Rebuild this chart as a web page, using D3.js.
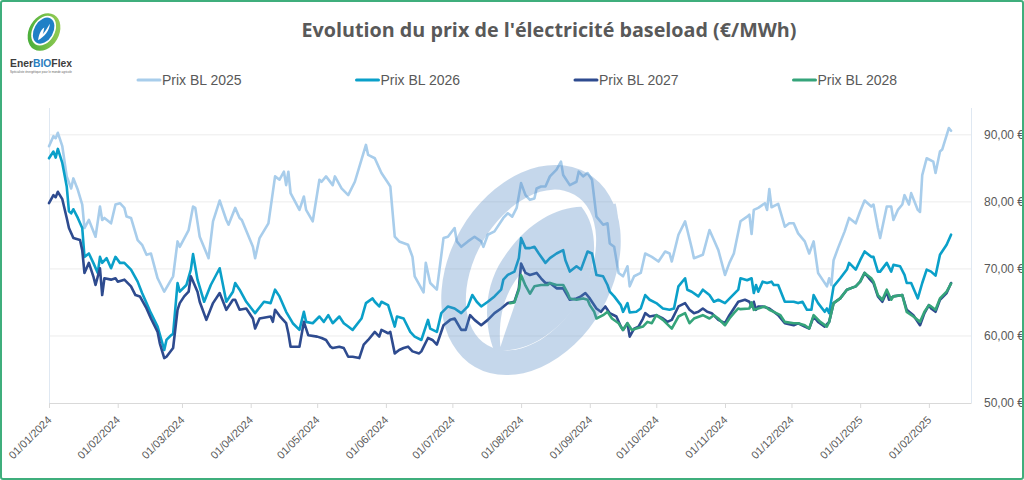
<!DOCTYPE html>
<html><head><meta charset="utf-8">
<script src="https://cdn.jsdelivr.net/npm/d3@7"></script>
<style>
html,body{margin:0;padding:0;background:#fff;}
svg{display:block;font-family:"Liberation Sans",Arial,sans-serif;}
</style></head>
<body>
<svg id="chart" width="1024" height="480"></svg>
<script>
const titleText = "Evolution du prix de l'électricité baseload (€/MWh)";
const seriesNames = ["Prix BL 2025","Prix BL 2026","Prix BL 2027","Prix BL 2028"];
const seriesColors = ["#a8cdeb","#0aa0c9","#2e4b8f","#35a47a"];
const xTickLabels = ["01/01/2024","01/02/2024","01/03/2024","01/04/2024","01/05/2024","01/06/2024","01/07/2024","01/08/2024","01/09/2024","01/10/2024","01/11/2024","01/12/2024","01/01/2025","01/02/2025"];
const yTicks = [50,60,70,80,90];

const bl2025 = [["2024-01-01",88.3],["2024-01-03",89.8],["2024-01-04",89.5],["2024-01-05",90.3],["2024-01-07",88.3],["2024-01-09",83.8],["2024-01-11",82.0],["2024-01-12",83.5],["2024-01-14",81.8],["2024-01-16",79.6],["2024-01-17",76.1],["2024-01-19",77.3],["2024-01-22",74.8],["2024-01-24",79.3],["2024-01-25",77.3],["2024-01-26",77.6],["2024-01-29",76.8],["2024-01-31",79.6],["2024-02-02",79.8],["2024-02-04",79.1],["2024-02-05",77.8],["2024-02-07",77.6],["2024-02-10",74.3],["2024-02-12",73.6],["2024-02-14",72.1],["2024-02-16",72.3],["2024-02-19",68.6],["2024-02-22",66.6],["2024-02-26",68.9],["2024-02-28",74.1],["2024-02-29",73.3],["2024-03-04",75.8],["2024-03-06",79.3],["2024-03-07",79.1],["2024-03-09",74.8],["2024-03-13",71.6],["2024-03-15",77.1],["2024-03-18",80.2],["2024-03-21",77.3],["2024-03-22",76.6],["2024-03-25",79.1],["2024-03-27",77.6],["2024-03-28",77.3],["2024-04-02",73.3],["2024-04-03",71.6],["2024-04-05",74.6],["2024-04-09",76.8],["2024-04-12",83.8],["2024-04-14",83.3],["2024-04-16",84.5],["2024-04-17",82.5],["2024-04-18",84.5],["2024-04-19",81.3],["2024-04-23",78.8],["2024-04-25",80.8],["2024-04-26",78.8],["2024-04-29",77.1],["2024-05-02",83.3],["2024-05-03",83.0],["2024-05-05",83.8],["2024-05-08",82.5],["2024-05-09",83.8],["2024-05-12",82.0],["2024-05-15",81.0],["2024-05-18",83.0],["2024-05-21",86.3],["2024-05-23",88.5],["2024-05-24",87.0],["2024-05-27",86.5],["2024-05-30",84.3],["2024-06-02",82.8],["2024-06-03",82.3],["2024-06-05",74.8],["2024-06-07",74.1],["2024-06-11",73.6],["2024-06-13",71.8],["2024-06-14",68.9],["2024-06-18",66.5],["2024-06-19",70.9],["2024-06-21",67.9],["2024-06-24",66.9],["2024-06-27",74.6],["2024-06-29",74.8],["2024-07-02",76.1],["2024-07-03",74.1],["2024-07-05",73.3],["2024-07-08",74.1],["2024-07-11",74.8],["2024-07-14",74.1],["2024-07-15",73.3],["2024-07-17",75.1],["2024-07-20",75.6],["2024-07-24",77.6],["2024-07-26",78.3],["2024-07-28",77.8],["2024-07-30",79.1],["2024-08-01",82.8],["2024-08-03",81.0],["2024-08-05",80.3],["2024-08-07",80.5],["2024-08-08",82.0],["2024-08-10",82.3],["2024-08-12",82.3],["2024-08-14",83.8],["2024-08-17",84.8],["2024-08-19",86.0],["2024-08-20",84.0],["2024-08-23",82.5],["2024-08-26",83.0],["2024-08-27",84.5],["2024-08-29",83.8],["2024-08-31",84.3],["2024-09-02",83.3],["2024-09-04",77.8],["2024-09-07",76.6],["2024-09-09",76.8],["2024-09-10",73.8],["2024-09-12",73.3],["2024-09-14",69.4],["2024-09-16",68.9],["2024-09-18",70.4],["2024-09-19",67.4],["2024-09-21",68.9],["2024-09-24",69.4],["2024-09-26",72.3],["2024-09-29",71.8],["2024-10-02",71.1],["2024-10-05",72.6],["2024-10-07",72.3],["2024-10-08",71.1],["2024-10-11",75.1],["2024-10-14",77.1],["2024-10-15",75.8],["2024-10-17",73.1],["2024-10-18",71.6],["2024-10-22",72.1],["2024-10-25",75.8],["2024-10-27",74.3],["2024-10-29",72.8],["2024-11-01",69.1],["2024-11-03",70.9],["2024-11-05",72.3],["2024-11-08",77.1],["2024-11-11",77.8],["2024-11-12",78.1],["2024-11-13",75.2],["2024-11-14",78.8],["2024-11-16",79.1],["2024-11-19",79.8],["2024-11-20",78.8],["2024-11-21",81.9],["2024-11-22",79.2],["2024-11-25",79.7],["2024-11-28",76.3],["2024-11-30",76.8],["2024-12-02",76.8],["2024-12-04",75.3],["2024-12-07",74.1],["2024-12-09",72.3],["2024-12-11",74.1],["2024-12-13",69.4],["2024-12-15",68.4],["2024-12-17",67.4],["2024-12-18",68.6],["2024-12-19",67.6],["2024-12-20",71.3],["2024-12-22",73.1],["2024-12-25",75.6],["2024-12-27",77.6],["2024-12-30",76.8],["2025-01-01",78.6],["2025-01-03",80.2],["2025-01-06",79.3],["2025-01-07",79.6],["2025-01-09",76.1],["2025-01-10",74.6],["2025-01-13",79.3],["2025-01-15",79.3],["2025-01-16",77.3],["2025-01-18",78.8],["2025-01-20",79.6],["2025-01-21",81.0],["2025-01-23",79.6],["2025-01-24",81.3],["2025-01-27",78.8],["2025-01-28",78.5],["2025-01-29",84.0],["2025-01-31",86.5],["2025-02-03",86.0],["2025-02-04",84.3],["2025-02-06",87.5],["2025-02-07",87.8],["2025-02-10",91.0],["2025-02-11",90.6]];

const bl2026 = [["2024-01-01",86.5],["2024-01-03",87.5],["2024-01-04",86.6],["2024-01-05",87.9],["2024-01-07",85.8],["2024-01-09",82.3],["2024-01-10",78.6],["2024-01-11",78.3],["2024-01-12",78.9],["2024-01-14",77.6],["2024-01-16",76.1],["2024-01-17",71.8],["2024-01-19",72.3],["2024-01-21",70.9],["2024-01-23",69.4],["2024-01-24",71.8],["2024-01-25",70.9],["2024-01-27",71.6],["2024-01-29",70.1],["2024-01-31",71.8],["2024-02-02",70.9],["2024-02-04",70.9],["2024-02-07",69.9],["2024-02-10",68.1],["2024-02-12",66.4],["2024-02-14",64.9],["2024-02-16",63.4],["2024-02-19",61.4],["2024-02-21",59.1],["2024-02-22",57.9],["2024-02-23",59.4],["2024-02-25",60.1],["2024-02-26",60.3],["2024-02-28",67.9],["2024-02-29",66.6],["2024-03-03",67.6],["2024-03-05",69.9],["2024-03-06",72.2],["2024-03-08",68.4],["2024-03-11",65.1],["2024-03-14",67.6],["2024-03-18",70.1],["2024-03-21",65.1],["2024-03-24",66.6],["2024-03-25",67.9],["2024-03-27",66.9],["2024-03-30",65.1],["2024-04-03",63.4],["2024-04-07",65.1],["2024-04-10",64.9],["2024-04-12",66.9],["2024-04-14",65.9],["2024-04-17",63.6],["2024-04-20",61.9],["2024-04-23",60.9],["2024-04-25",63.6],["2024-04-26",62.1],["2024-04-29",61.9],["2024-05-02",62.9],["2024-05-04",62.1],["2024-05-06",63.1],["2024-05-08",61.9],["2024-05-11",62.9],["2024-05-13",61.9],["2024-05-15",61.4],["2024-05-17",60.9],["2024-05-21",62.6],["2024-05-23",64.9],["2024-05-26",65.6],["2024-05-27",65.1],["2024-05-29",64.4],["2024-05-30",65.1],["2024-06-02",64.6],["2024-06-05",61.4],["2024-06-06",62.9],["2024-06-09",62.6],["2024-06-12",60.6],["2024-06-14",59.9],["2024-06-17",59.4],["2024-06-20",62.4],["2024-06-21",61.1],["2024-06-24",60.6],["2024-06-26",63.4],["2024-06-29",64.4],["2024-07-02",64.1],["2024-07-05",63.4],["2024-07-08",64.4],["2024-07-10",66.1],["2024-07-12",65.1],["2024-07-14",64.4],["2024-07-17",65.1],["2024-07-20",65.9],["2024-07-23",66.9],["2024-07-24",68.4],["2024-07-26",69.1],["2024-07-29",69.6],["2024-07-31",71.6],["2024-08-01",74.6],["2024-08-03",73.1],["2024-08-05",73.1],["2024-08-07",73.3],["2024-08-09",72.3],["2024-08-12",70.9],["2024-08-14",71.6],["2024-08-17",72.3],["2024-08-20",72.8],["2024-08-21",71.3],["2024-08-23",69.6],["2024-08-26",70.4],["2024-08-28",69.9],["2024-08-31",72.6],["2024-09-02",72.3],["2024-09-04",69.1],["2024-09-07",68.9],["2024-09-09",67.6],["2024-09-10",66.6],["2024-09-12",65.9],["2024-09-15",64.6],["2024-09-16",63.6],["2024-09-18",64.9],["2024-09-19",63.5],["2024-09-22",63.6],["2024-09-24",64.1],["2024-09-26",66.1],["2024-09-28",65.4],["2024-10-01",64.9],["2024-10-04",64.1],["2024-10-07",63.9],["2024-10-09",64.1],["2024-10-11",67.4],["2024-10-14",68.6],["2024-10-15",66.9],["2024-10-17",66.6],["2024-10-20",65.9],["2024-10-22",66.9],["2024-10-25",66.1],["2024-10-27",65.1],["2024-10-29",65.4],["2024-11-01",64.9],["2024-11-04",65.9],["2024-11-07",66.9],["2024-11-08",68.6],["2024-11-11",68.3],["2024-11-13",68.6],["2024-11-14",66.4],["2024-11-15",67.6],["2024-11-16",66.6],["2024-11-18",68.1],["2024-11-20",67.9],["2024-11-22",68.1],["2024-11-23",67.6],["2024-11-25",67.6],["2024-11-28",65.1],["2024-12-02",65.1],["2024-12-04",64.9],["2024-12-06",65.1],["2024-12-08",63.9],["2024-12-10",63.9],["2024-12-11",66.1],["2024-12-13",64.9],["2024-12-16",63.6],["2024-12-17",64.1],["2024-12-18",63.4],["2024-12-20",67.4],["2024-12-23",68.6],["2024-12-26",69.9],["2024-12-27",70.9],["2024-12-30",69.9],["2025-01-01",71.3],["2025-01-03",72.6],["2025-01-06",71.8],["2025-01-07",71.8],["2025-01-09",69.6],["2025-01-10",69.6],["2025-01-13",70.9],["2025-01-15",69.6],["2025-01-16",70.6],["2025-01-19",70.4],["2025-01-21",69.1],["2025-01-22",67.9],["2025-01-24",67.9],["2025-01-27",65.6],["2025-01-29",67.9],["2025-01-31",69.9],["2025-02-02",69.6],["2025-02-04",69.0],["2025-02-06",72.1],["2025-02-09",73.6],["2025-02-11",75.1]];

const bl2027 = [["2024-01-01",79.8],["2024-01-03",81.0],["2024-01-04",80.7],["2024-01-05",81.5],["2024-01-07",80.4],["2024-01-09",77.6],["2024-01-10",76.1],["2024-01-12",74.6],["2024-01-15",74.3],["2024-01-16",72.8],["2024-01-17",69.4],["2024-01-19",70.9],["2024-01-21",68.9],["2024-01-22",67.6],["2024-01-24",70.1],["2024-01-25",66.1],["2024-01-26",68.6],["2024-01-29",68.4],["2024-01-31",68.6],["2024-02-01",68.1],["2024-02-04",68.4],["2024-02-07",67.4],["2024-02-09",66.1],["2024-02-11",65.9],["2024-02-14",64.1],["2024-02-16",62.6],["2024-02-19",60.6],["2024-02-20",58.9],["2024-02-22",56.7],["2024-02-23",56.9],["2024-02-26",58.2],["2024-02-28",63.9],["2024-02-29",64.9],["2024-03-02",65.9],["2024-03-04",66.6],["2024-03-05",68.9],["2024-03-08",66.6],["2024-03-09",65.1],["2024-03-12",62.4],["2024-03-15",64.9],["2024-03-18",66.4],["2024-03-21",63.9],["2024-03-24",65.4],["2024-03-25",65.4],["2024-03-27",63.9],["2024-03-30",64.1],["2024-04-02",62.6],["2024-04-03",61.1],["2024-04-05",62.6],["2024-04-10",62.9],["2024-04-11",62.1],["2024-04-12",63.9],["2024-04-14",63.0],["2024-04-17",61.9],["2024-04-18",60.4],["2024-04-19",58.4],["2024-04-23",58.4],["2024-04-25",62.1],["2024-04-27",60.1],["2024-05-01",59.9],["2024-05-03",59.7],["2024-05-05",59.4],["2024-05-07",58.4],["2024-05-08",58.2],["2024-05-11",58.4],["2024-05-13",58.2],["2024-05-15",56.9],["2024-05-17",56.9],["2024-05-20",56.7],["2024-05-22",58.7],["2024-05-24",59.4],["2024-05-27",60.6],["2024-05-29",59.9],["2024-05-30",60.9],["2024-06-02",60.4],["2024-06-03",60.6],["2024-06-05",57.4],["2024-06-07",57.9],["2024-06-09",58.2],["2024-06-11",58.4],["2024-06-13",57.7],["2024-06-16",57.4],["2024-06-17",57.7],["2024-06-20",59.7],["2024-06-22",59.4],["2024-06-24",58.7],["2024-06-27",61.6],["2024-06-30",62.4],["2024-07-02",62.6],["2024-07-05",60.9],["2024-07-07",60.9],["2024-07-09",63.1],["2024-07-11",62.4],["2024-07-14",61.6],["2024-07-17",62.4],["2024-07-20",63.4],["2024-07-23",64.1],["2024-07-26",64.9],["2024-07-29",65.1],["2024-07-31",67.1],["2024-08-01",70.8],["2024-08-03",69.4],["2024-08-05",69.1],["2024-08-08",69.4],["2024-08-10",68.6],["2024-08-12",67.9],["2024-08-14",67.9],["2024-08-17",67.1],["2024-08-20",67.1],["2024-08-23",65.4],["2024-08-26",65.6],["2024-08-28",65.9],["2024-08-30",66.4],["2024-09-01",65.6],["2024-09-04",64.1],["2024-09-06",63.6],["2024-09-08",64.4],["2024-09-10",63.4],["2024-09-13",62.9],["2024-09-15",61.4],["2024-09-16",60.9],["2024-09-18",61.9],["2024-09-19",59.9],["2024-09-21",61.1],["2024-09-23",61.4],["2024-09-25",62.6],["2024-09-26",63.4],["2024-09-28",62.9],["2024-10-01",63.1],["2024-10-04",62.6],["2024-10-06",62.1],["2024-10-08",62.4],["2024-10-11",64.4],["2024-10-14",64.9],["2024-10-16",63.9],["2024-10-18",63.4],["2024-10-20",63.6],["2024-10-22",64.1],["2024-10-24",63.6],["2024-10-26",63.4],["2024-10-29",62.4],["2024-11-01",61.9],["2024-11-03",63.1],["2024-11-05",64.1],["2024-11-07",65.1],["2024-11-10",65.4],["2024-11-12",65.1],["2024-11-13",64.4],["2024-11-14",65.1],["2024-11-15",63.9],["2024-11-16",64.4],["2024-11-18",64.4],["2024-11-21",64.1],["2024-11-23",63.6],["2024-11-25",63.1],["2024-11-28",61.9],["2024-12-02",61.6],["2024-12-04",61.9],["2024-12-07",61.4],["2024-12-09",61.1],["2024-12-11",62.9],["2024-12-13",62.1],["2024-12-16",61.4],["2024-12-18",62.1],["2024-12-20",64.9],["2024-12-23",65.6],["2024-12-26",66.9],["2024-12-30",67.4],["2025-01-01",68.1],["2025-01-03",69.4],["2025-01-05",68.6],["2025-01-07",67.9],["2025-01-09",65.9],["2025-01-11",65.1],["2025-01-13",66.6],["2025-01-14",65.4],["2025-01-16",65.9],["2025-01-20",66.1],["2025-01-22",63.9],["2025-01-25",63.1],["2025-01-28",61.6],["2025-01-30",63.4],["2025-02-01",64.6],["2025-02-02",64.1],["2025-02-04",63.6],["2025-02-06",65.4],["2025-02-09",66.4],["2025-02-11",67.9]];

const bl2028 = [["2024-07-27",64.9],["2024-07-29",65.0],["2024-07-31",66.9],["2024-08-01",69.1],["2024-08-03",67.5],["2024-08-05",66.3],["2024-08-07",67.4],["2024-08-10",67.6],["2024-08-13",67.6],["2024-08-14",67.9],["2024-08-17",67.6],["2024-08-20",67.6],["2024-08-22",66.4],["2024-08-23",65.6],["2024-08-26",65.4],["2024-08-29",65.6],["2024-08-31",65.4],["2024-09-01",64.6],["2024-09-03",63.6],["2024-09-04",62.6],["2024-09-07",63.1],["2024-09-09",63.6],["2024-09-11",62.6],["2024-09-14",61.9],["2024-09-16",60.9],["2024-09-18",61.9],["2024-09-20",60.9],["2024-09-22",61.1],["2024-09-25",61.4],["2024-09-27",62.1],["2024-09-29",61.9],["2024-10-01",63.1],["2024-10-04",62.4],["2024-10-08",61.1],["2024-10-11",62.9],["2024-10-14",63.4],["2024-10-16",61.9],["2024-10-18",62.6],["2024-10-22",63.1],["2024-10-25",62.6],["2024-10-27",63.1],["2024-10-29",62.6],["2024-11-01",61.6],["2024-11-03",62.6],["2024-11-05",63.4],["2024-11-07",64.1],["2024-11-08",64.0],["2024-11-12",64.1],["2024-11-13",65.0],["2024-11-14",63.9],["2024-11-16",64.1],["2024-11-19",64.4],["2024-11-21",63.9],["2024-11-23",63.6],["2024-11-26",63.1],["2024-11-28",62.1],["2024-12-02",61.9],["2024-12-04",61.9],["2024-12-07",61.6],["2024-12-09",61.1],["2024-12-11",63.1],["2024-12-14",62.1],["2024-12-17",61.4],["2024-12-18",62.1],["2024-12-20",64.9],["2024-12-23",65.6],["2024-12-26",66.9],["2024-12-30",67.4],["2025-01-01",68.1],["2025-01-03",69.4],["2025-01-06",68.6],["2025-01-07",68.1],["2025-01-09",66.1],["2025-01-11",65.4],["2025-01-13",66.9],["2025-01-15",65.4],["2025-01-16",65.9],["2025-01-20",66.1],["2025-01-22",63.6],["2025-01-25",62.9],["2025-01-28",62.1],["2025-01-30",63.6],["2025-02-01",64.6],["2025-02-02",64.4],["2025-02-04",63.9],["2025-02-06",65.6],["2025-02-09",66.6],["2025-02-11",67.8]];

const allSeries = [bl2025, bl2026, bl2027, bl2028];

const svg = d3.select("#chart");
const W = 1024, H = 480;
const parseISO = d3.timeParse("%Y-%m-%d");
const parseFR = d3.timeParse("%d/%m/%Y");
const margin = {left: 49, right: 53, top: 108, bottom: 77};

const x = d3.scaleTime()
  .domain([parseISO("2024-01-01"), parseISO("2025-02-20")])
  .range([margin.left, W - margin.right]);
const y = d3.scaleLinear().domain([50, 94]).range([H - margin.bottom, margin.top]);

const fr = d3.formatLocale({decimal: ",", thousands: "\u00a0", grouping: [3], currency: ["", " €"]});
const fmtY = v => fr.format(",.2f")(v) + " €";
const textCol = "#595959";

svg.append("rect").attr("x",0).attr("y",0).attr("width",W).attr("height",H).attr("fill","#fff");

// gridlines
svg.append("g").selectAll("line").data(yTicks.filter(t => t > 50)).join("line")
  .attr("x1", x.range()[0]).attr("x2", x.range()[1])
  .attr("y1", d => y(d)).attr("y2", d => y(d))
  .attr("stroke", "#ececec").attr("stroke-width", 1);

// plot side borders
svg.append("line").attr("x1", x.range()[0]+0.5).attr("x2", x.range()[0]+0.5)
  .attr("y1", y.range()[1]).attr("y2", y(50)).attr("stroke","#dfe8f2");
svg.append("line").attr("x1", x.range()[1]+0.5).attr("x2", x.range()[1]+0.5)
  .attr("y1", y.range()[1]).attr("y2", y(50)).attr("stroke","#dfe8f2");

// x axis
const xTickDates = xTickLabels.map(parseFR);
const xAxis = d3.axisBottom(x).tickValues(xTickDates).tickFormat(d3.timeFormat("%d/%m/%Y"))
  .tickSizeInner(5).tickSizeOuter(0);
const gx = svg.append("g").attr("transform", `translate(0,${y(50)})`).call(xAxis);
gx.select(".domain").attr("stroke", "#d9d9d9");
gx.selectAll(".tick line").attr("stroke", "#d9d9d9");
gx.selectAll(".tick text")
  .attr("fill", textCol).attr("font-size", 11)
  .attr("font-family", '"Liberation Sans", Arial, sans-serif')
  .attr("text-anchor", "end")
  .attr("x", 0).attr("y", 0).attr("dy", "0.35em")
  .attr("transform", "translate(0,15) rotate(-45)");

// y axis on the right
const yAxis = d3.axisRight(y).tickValues(yTicks).tickFormat(fmtY).tickSize(0);
const gy = svg.append("g").attr("transform", `translate(${x.range()[1] + 13},0)`).call(yAxis);
gy.select(".domain").remove();
gy.selectAll(".tick text").attr("fill", textCol).attr("font-size", 12)
  .attr("font-family", '"Liberation Sans", Arial, sans-serif').attr("x", 0);

// lines
const line = d3.line().x(d => x(parseISO(d[0]))).y(d => y(d[1]));
svg.append("g").selectAll("path").data(allSeries).join("path")
  .attr("d", line).attr("fill", "none")
  .attr("stroke", (d, i) => seriesColors[i])
  .attr("stroke-width", 2.6).attr("stroke-linejoin", "round").attr("stroke-linecap", "round");

// watermark (semi-transparent overlay)
const wm = svg.append("g").attr("opacity", 0.32)
  .attr("transform", "translate(531,270) rotate(30)");
wm.append("path").attr("fill", "#4f86c2").attr("fill-rule", "evenodd")
  .attr("d", "M0,-112 A81,112 0 1,1 0,112 A81,112 0 1,1 0,-112 Z M0,-87 A56,87 0 1,0 0,87 A56,87 0 1,0 0,-87 Z");
wm.append("path").attr("fill", "#4f86c2").attr("fill-rule", "evenodd")
  .attr("d", "M12,-80 C40,-70 58,-30 57,0 C56,40 38,75 8,88 C-14,70 -32,40 -30,5 C-28,-35 -12,-65 12,-80 Z " +
             "M-6,2 C2,25 6,55 12,82 C-2,62 -14,35 -6,2 Z");
wm.append("path").attr("fill", "#4f86c2")
  .attr("d", "M40,-100 C60,-80 70,-40 66,-10 L58,-12 C60,-45 52,-75 34,-94 Z");

// title
svg.append("text").attr("x", 549).attr("y", 37).attr("text-anchor", "middle")
  .attr("font-family", '"Open Sans", "Liberation Sans", Arial, sans-serif')
  .attr("font-weight", 700).attr("font-size", 19).attr("fill", textCol)
  .attr("textLength", 495).attr("lengthAdjust", "spacingAndGlyphs")
  .text(titleText);

// legend
const lg = svg.append("g").selectAll("g").data(seriesNames).join("g")
  .attr("transform", (d, i) => `translate(${138 + i * 218.5},80)`);
lg.append("line").attr("x1", 0).attr("x2", 22).attr("y1", 0).attr("y2", 0)
  .attr("stroke", (d, i) => seriesColors[i]).attr("stroke-width", 3).attr("stroke-linecap", "round");
lg.append("text").attr("x", 24).attr("y", 0).attr("dy", "0.35em")
  .attr("font-size", 14).attr("fill", textCol)
  .attr("font-family", '"Liberation Sans", Arial, sans-serif').text(d => d);

// logo
const defs = svg.append("defs");
const gr = defs.append("linearGradient").attr("id", "lgGreen").attr("x1", 0).attr("y1", 1).attr("x2", 1).attr("y2", 0);
gr.append("stop").attr("offset", 0).attr("stop-color", "#3aa935");
gr.append("stop").attr("offset", 1).attr("stop-color", "#a5d15a");
const logo = svg.append("g").attr("transform", "translate(44,32) rotate(30)");
logo.append("path").attr("fill", "url(#lgGreen)").attr("fill-rule", "evenodd")
  .attr("d", "M0,-20 A15,20 0 1,1 0,20 A15,20 0 1,1 0,-20 Z M-1,-17 A11,16 0 1,0 -1,15 A11,16 0 1,0 -1,-17 Z");
logo.append("ellipse").attr("cx", -1).attr("cy", -1).attr("rx", 9.5).attr("ry", 14).attr("fill", "#1f80c6");
logo.append("path").attr("fill", "#fff")
  .attr("d", "M1,-10 C4,-4 3,4 -1,10 C-3,5 -4,0 -2,-4 C-1,-1 0,1 0,3 C1,-2 1,-6 1,-10 Z");
const lt = svg.append("text").attr("x", 10).attr("y", 67).attr("font-size", 11).attr("font-weight", 700)
  .attr("font-family", '"Liberation Sans", Arial, sans-serif')
  .attr("textLength", 62).attr("lengthAdjust", "spacingAndGlyphs");
lt.append("tspan").attr("fill", "#3d3d3d").text("Ener");
lt.append("tspan").attr("fill", "#2a7fc0").text("BIO");
lt.append("tspan").attr("fill", "#3d3d3d").text("Flex");
svg.append("text").attr("x", 10).attr("y", 73).attr("font-size", 3.6).attr("fill", "#666")
  .attr("textLength", 62).attr("lengthAdjust", "spacingAndGlyphs")
  .text("Spécialiste énergétique pour le monde agricole");

// outer frame
svg.append("rect").attr("x", 1).attr("y", 1).attr("width", W - 2).attr("height", H - 2)
  .attr("fill", "none").attr("stroke", "#3fae7c").attr("stroke-width", 2).attr("rx", 2);
</script>
</body></html>
